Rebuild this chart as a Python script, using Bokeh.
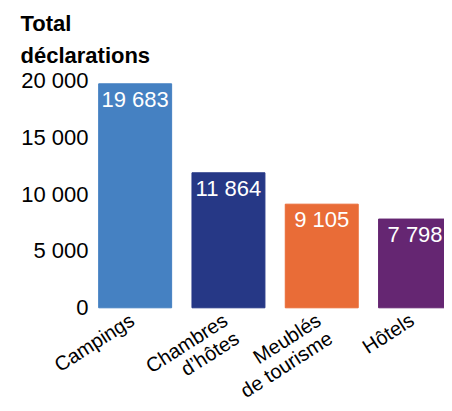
import math
from bokeh.plotting import figure
from bokeh.models import Range1d, FixedTicker, ColumnDataSource
from bokeh.embed import file_html
from bokeh.resources import INLINE
from bokeh.core.properties import value

# ---- data ----
categories = ["Campings", "Chambres\nd’hôtes", "Meublés\nde tourisme", "Hôtels"]
values = [19683, 11864, 9105, 7798]
value_labels = ["19 683", "11 864", "9 105", "7 798"]
bar_colors = ["#4581c2", "#263886", "#e96c37", "#652672"]
y_ticks = [0, 5000, 10000, 15000, 20000]
y_tick_labels = ["0", "5 000", "10 000", "15 000", "20 000"]

FONT = "Liberation Sans"
xs = [i + 0.5 for i in range(len(categories))]

src = ColumnDataSource(dict(x=xs, top=values, label=value_labels, color=bar_colors))

# rotated, right-aligned category labels: one text item per line
ANGLE = 0.57
LINE = 21.5
lx, ly, ltext, ldx, ldy = [], [], [], [], []
for x, cat in zip(xs, categories):
    for j, line in enumerate(cat.split("\n")):
        lx.append(x)
        ly.append(0)
        ltext.append(line)
        ldx.append(-9 + j * LINE * math.sin(ANGLE))
        ldy.append(1 + j * LINE * math.cos(ANGLE))
lab_src = ColumnDataSource(dict(x=lx, y=ly, text=ltext, dx=ldx, dy=ldy))

# frame spans the canvas below the title so the rotated category labels are not clipped
p = figure(width=444, height=403, output_backend="svg", toolbar_location=None,
           x_range=Range1d(-0.9432, 3.8156), y_range=Range1d(-8410, 20677),
           min_border_left=0, min_border_right=0, min_border_top=72, min_border_bottom=0,
           x_axis_location=None, title="Total\ndéclarations")

p.vbar(x="x", top="top", width=0.782, color="color", source=src)
p.text(x="x", y="top", text="label", source=src, text_color="white",
       text_align="center", text_baseline="top", y_offset=3,
       text_font=value(FONT), text_font_size="22px")

p.text(x="x", y="y", text="text", source=lab_src, text_color="black",
       text_align="right", text_baseline="top", angle=ANGLE,
       x_offset="dx", y_offset="dy",
       text_font=value(FONT), text_font_size="20px")

p.title.text_font = FONT
p.title.text_font_style = "bold"
p.title.text_font_size = "22px"
p.title.text_color = "black"
p.title.text_line_height = 1.25
p.title.offset = 20
p.title.align = "left"

yax = p.yaxis[0]
yax.fixed_location = 0
yax.ticker = FixedTicker(ticks=y_ticks)
yax.major_label_overrides = {t: l for t, l in zip(y_ticks, y_tick_labels)}
yax.major_label_standoff = 0
yax.major_tick_out = 0
yax.major_tick_in = 0
yax.axis_line_color = None
yax.major_tick_line_color = None
yax.minor_tick_line_color = None
yax.major_label_text_font = FONT
yax.major_label_text_font_size = "22px"
yax.major_label_text_color = "#000000"

p.xgrid.visible = False
p.ygrid.visible = False
p.outline_line_color = None

open("out.html", "w").write(file_html(p, INLINE))
